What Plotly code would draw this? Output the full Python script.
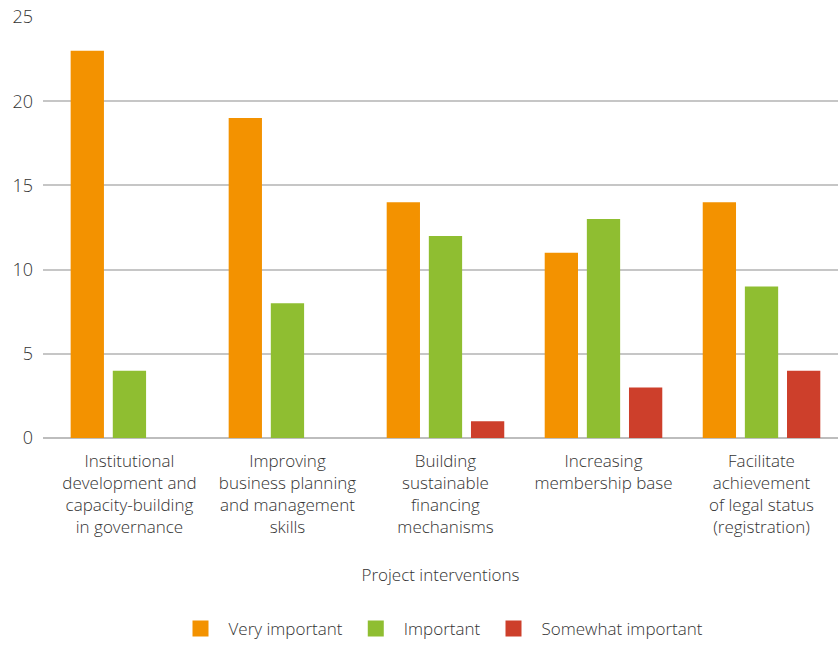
import plotly.graph_objects as go

categories = [
    "Institutional<br>development and<br>capacity-building<br>in governance",
    "Improving<br>business planning<br>and management<br>skills",
    "Building<br>sustainable<br>financing<br>mechanisms",
    "Increasing<br>membership base",
    "Facilitate<br>achievement<br>of legal status<br>(registration)",
]
very_important = [23, 19, 14, 11, 14]
important = [4, 8, 12, 13, 9]
somewhat_important = [0, 0, 1, 3, 4]

series = [
    ("Very important", very_important, "#F39200"),
    ("Important", important, "#8FBE31"),
    ("Somewhat important", somewhat_important, "#CD3F2B"),
]

fig = go.Figure()
for name, vals, color in series:
    fig.add_trace(go.Bar(
        x=list(range(len(categories))), y=vals, name=name,
        marker=dict(color=color, line=dict(width=0)),
        legendgroup=name, showlegend=False,
    ))
# legend entries with larger square swatches
for name, vals, color in series:
    fig.add_trace(go.Scatter(
        x=[None], y=[None], mode="markers", name=name, legendgroup=name,
        marker=dict(symbol="square", size=16, color=color),
        showlegend=True, hoverinfo="skip",
    ))

font_family = "Open Sans, Liberation Sans, Arial, sans-serif"
text_color = "#333333"
fig.update_layout(
    width=838, height=647,
    margin=dict(l=43, r=0, t=17, b=206),
    paper_bgcolor="white", plot_bgcolor="white",
    barmode="group", bargap=0.2, bargroupgap=0.21,
    font=dict(family=font_family, color=text_color, size=17, weight=300),
    showlegend=True,
    legend=dict(
        orientation="h", x=0.5, xanchor="center", y=-0.455, yanchor="middle",
        font=dict(size=17, color=text_color, weight=300), itemwidth=46,
        itemsizing="trace", traceorder="normal",
    ),
    xaxis=dict(
        tickmode="array", tickvals=list(range(len(categories))), ticktext=categories,
        range=[-0.547, 4.484], showgrid=False, zeroline=False,
        showline=False, ticks="", ticklabelstandoff=11,
        tickfont=dict(size=17, color=text_color, weight=300),
        title=dict(text="Project interventions", standoff=31,
                   font=dict(size=17, color=text_color, weight=300)),
        automargin=False,
    ),
    yaxis=dict(
        range=[0, 25], tickvals=[0, 5, 10, 15, 20, 25],
        showgrid=True, gridcolor="#c6c6c6", gridwidth=2,
        zeroline=True, zerolinecolor="#bdbdbd", zerolinewidth=2,
        ticks="", tickfont=dict(size=18, color=text_color, weight=300),
        automargin=False, ticklabelstandoff=9,
    ),
)

fig.write_html("out.html")
